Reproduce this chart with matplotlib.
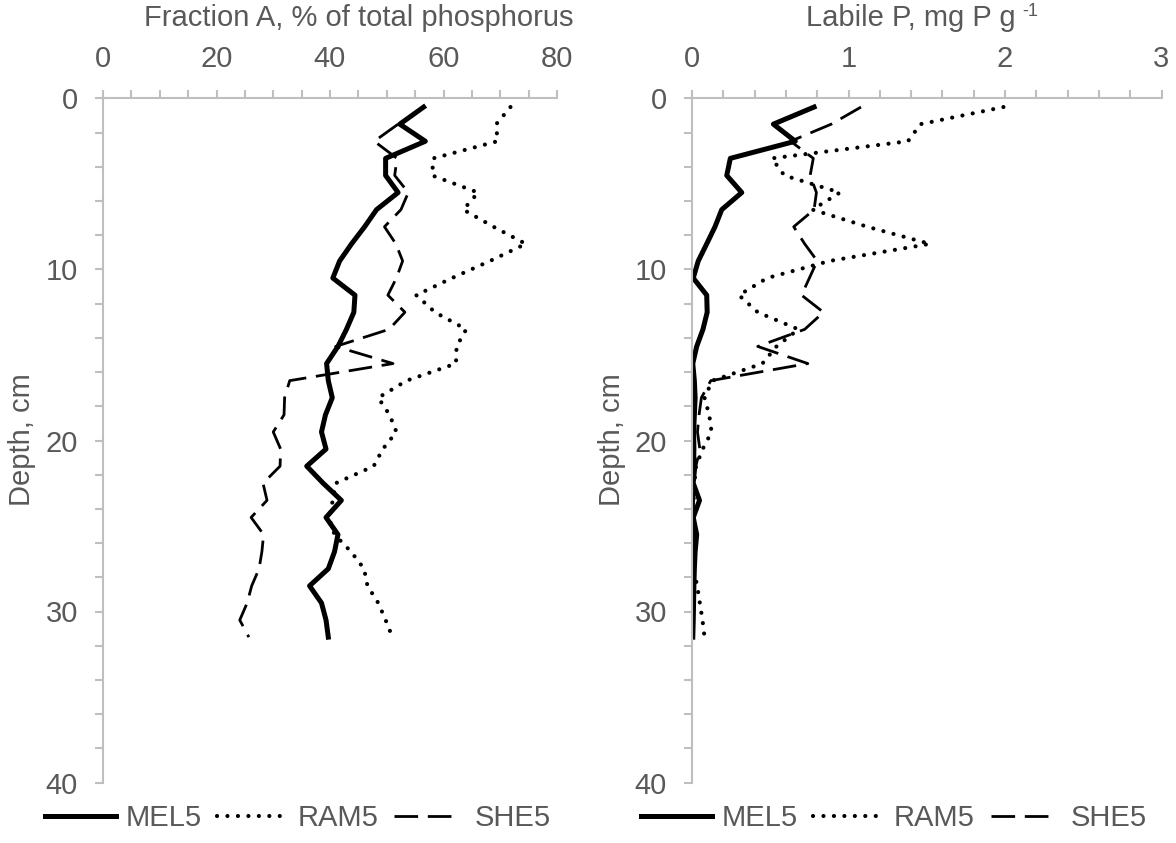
import numpy as np
import matplotlib
matplotlib.use("Agg")
import matplotlib.pyplot as plt
from matplotlib.ticker import MultipleLocator
from matplotlib.lines import Line2D

plt.rcParams['font.family'] = ['Liberation Sans', 'DejaVu Sans']

# ---------------- data ----------------
depth = [0.5, 1.5, 2.5, 3.5, 4.5, 5.5, 6.5, 7.5, 8.5, 9.5, 10.5, 11.5, 12.5, 13.5, 14.5, 15.5,
         16.5, 17.5, 18.5, 19.5, 20.5, 21.5, 22.5, 23.5, 24.5, 25.5, 26.5, 27.5, 28.5, 29.5, 30.5, 31.5]

series_names = ["MEL5", "RAM5", "SHE5"]

# Fraction A, % of total phosphorus
mel5_frac = [56.5, 52.3, 56.8, 49.8, 49.8, 52.0, 48.2, 46.1, 43.8, 41.7, 40.5, 44.4, 44.2, 42.9, 41.4, 39.4,
             39.7, 40.4, 39.2, 38.5, 39.3, 35.9, 38.8, 42.0, 39.3, 41.4, 40.8, 39.7, 36.4, 38.5, 39.3, 39.7]
ram5_frac = [71.8, 69.3, 69.5, 58.2, 58.0, 66.1, 63.5, 68.8, 74.5, 68.2, 61.5, 55.2, 58.5, 64.0, 62.3, 62.2,
             53.5, 48.5, 50.5, 51.7, 49.3, 47.7, 41.0, 40.5, 39.8, 40.8, 43.7, 46.0, 46.6, 48.5, 49.8, 51.0]
she5_frac = [np.nan, 52.0, 47.8, 51.8, 51.4, 53.8, 52.5, 49.6, 51.6, 52.8, 51.7, 50.2, 53.2, 50.4, 41.0, 51.1,
             32.9, 32.0, 31.9, 30.0, 31.3, 31.2, 28.2, 28.9, 26.1, 28.3, 28.0, 27.5, 26.2, 25.4, 24.1, 25.7]

# Labile P, mg P g-1
mel5_lab = [0.78, 0.52, 0.66, 0.245, 0.222, 0.318, 0.19, 0.147, 0.094, 0.04, 0.008, 0.094, 0.097, 0.07, 0.03, 0.005,
            0.015, 0.02, 0.015, 0.01, 0.012, 0.01, 0.008, 0.048, 0.008, 0.03, 0.02, 0.015, 0.012, 0.01, 0.008, 0.005]
ram5_lab = [1.99, 1.46, 1.38, 0.51, 0.59, 0.945, 0.77, 1.12, 1.52, 0.88, 0.48, 0.30, 0.42, 0.68, 0.54, 0.45,
            0.13, 0.08, 0.11, 0.125, 0.068, 0.026, 0.015, 0.01, 0.01, 0.008, 0.008, 0.01, 0.033, 0.05, 0.067, 0.08]
she5_lab = [1.08, 0.89, 0.63, 0.775, 0.755, 0.795, 0.78, 0.65, 0.72, 0.80, 0.75, 0.70, 0.84, 0.72, 0.42, 0.74,
            0.12, 0.06, 0.045, 0.035, 0.05, 0.025, 0.015, 0.01, 0.01, 0.01, 0.01, 0.01, 0.01, 0.01, 0.01, 0.01]

left_title = "Fraction A, % of total phosphorus"
right_title_main = "Labile P, mg P g"
right_title_sup = "-1"
y_title = "Depth, cm"

# ---------------- styling ----------------
TXT = '#595959'
AXC = '#BFBFBF'
FS = 21
W, H = 1176, 843

styles = {
    "MEL5": dict(color='black', lw=3.6, ls='-'),
    "RAM5": dict(color='black', lw=3.0, ls=(0, (0.01, 2.5)), dash_capstyle='round'),
    "SHE5": dict(color='black', lw=2.0, ls=(0, (8.5, 3.5)), dash_capstyle='butt'),
}
legend_styles = dict(styles)
legend_styles["SHE5"] = dict(color='black', lw=2.0, ls=(0, (8.5, 3.5, 8.5, 30)), dash_capstyle='butt')

fig = plt.figure(figsize=(W / 100, H / 100), dpi=100)


def px_axes(x0, x1, y0, y1):
    return fig.add_axes([x0 / W, 1 - y1 / H, (x1 - x0) / W, (y1 - y0) / H])


ax1 = px_axes(103, 557, 98.5, 782.5)
ax2 = px_axes(692, 1161.5, 98.5, 782.5)

for ax, data in ((ax1, [mel5_frac, ram5_frac, she5_frac]), (ax2, [mel5_lab, ram5_lab, she5_lab])):
    for name, vals in zip(series_names, data):
        ax.plot(vals, depth, label=name, **styles[name])
    ax.set_ylim(40, 0)
    ax.xaxis.tick_top()
    for s in ('right', 'bottom'):
        ax.spines[s].set_visible(False)
    for s in ('top', 'left'):
        ax.spines[s].set_color(AXC)
        ax.spines[s].set_linewidth(1.5)
    ax.yaxis.set_major_locator(MultipleLocator(10))
    ax.yaxis.set_minor_locator(MultipleLocator(2))
    ax.tick_params(which='both', direction='out', length=6, width=1.5, color=AXC,
                   labelsize=FS, labelcolor=TXT, pad=12)
    ax.tick_params(axis='x', which='both', top=True, bottom=False, labeltop=True, labelbottom=False)

ax1.set_xlim(0, 80)
ax1.xaxis.set_major_locator(MultipleLocator(20))
ax1.xaxis.set_minor_locator(MultipleLocator(5))
ax2.set_xlim(0, 3)
ax2.xaxis.set_major_locator(MultipleLocator(1))
ax2.xaxis.set_minor_locator(MultipleLocator(0.2))

fig.text(359 / W, 1 - 18 / H, left_title, ha='center', va='center', fontsize=FS, color=TXT)
fig.text(22 / W, 1 - 440 / H, y_title, ha='center', va='center', rotation=90, fontsize=FS, color=TXT)
fig.text(612 / W, 1 - 440 / H, y_title, ha='center', va='center', rotation=90, fontsize=FS, color=TXT)

# right title with a small raised "-1"
renderer = fig.canvas.get_renderer()
t_main = fig.text(0, 1 - 18 / H, right_title_main, ha='left', va='center', fontsize=FS, color=TXT)
t_sup = fig.text(0, 0, right_title_sup, ha='left', va='top', fontsize=FS * 0.62, color=TXT)
w_main = t_main.get_window_extent(renderer).width
w_sup = t_sup.get_window_extent(renderer).width
gap = 7
x_start = 922 - (w_main + gap + w_sup) / 2
t_main.set_x(x_start / W)
bb = t_main.get_window_extent(renderer)
t_sup.set_position(((x_start + w_main + gap) / W, (bb.y1 + 1) / H))

for ax, x0 in ((ax1, 45), (ax2, 641)):
    handles = [Line2D([], [], **legend_styles[n]) for n in series_names]
    ax.legend(handles, series_names, loc='center left', bbox_to_anchor=(x0 / W, 1 - 818 / H),
              bbox_transform=fig.transFigure, ncol=3, frameon=False, handlelength=2.45,
              handletextpad=0.3, columnspacing=0.55, borderpad=0, borderaxespad=0,
              fontsize=FS, labelcolor=TXT)

fig.savefig("out.png", dpi=100)
